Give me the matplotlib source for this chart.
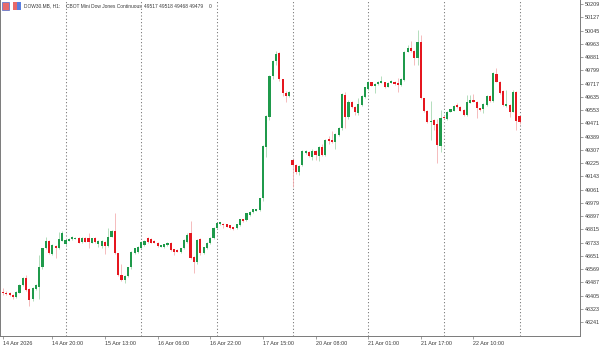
#!/usr/bin/env python3
"""DOW30 hourly candles, MT5-style screenshot look."""

import matplotlib
matplotlib.use('Agg')
import matplotlib.pyplot as plt
from matplotlib.patches import Rectangle

# OHLC of each hourly bar
opens = [48425, 48422, 48418, 48408, 48398, 48422, 48470, 48515, 48445, 48381,
         48443, 48460, 48579, 48697, 48742, 48662, 48713, 48701, 48744, 48721,
         48744, 48752, 48757, 48763, 48736, 48763, 48763, 48732, 48763, 48722,
         48713, 48738, 48713, 48769, 48806, 48666, 48532, 48501, 48526, 48579,
         48666, 48676, 48697, 48717, 48759, 48755, 48744, 48732, 48707, 48707,
         48717, 48732, 48691, 48686, 48676, 48697, 48738, 48790, 48645, 48610,
         48753, 48666, 48697, 48728, 48759, 48821, 48845, 48847, 48845, 48839,
         48827, 48821, 48841, 48876, 48872, 48903, 48920, 48930, 48934, 49006,
         49326, 49512, 49763, 49856, 49908, 49743, 49656, 49640, 49244, 49213,
         49171, 49213, 49285, 49295, 49264, 49299, 49268, 49322, 49275, 49371,
         49367, 49357, 49398, 49440, 49646, 49512, 49605, 49574, 49532, 49584,
         49636, 49681, 49724, 49704, 49714, 49722, 49724, 49697, 49722, 49728,
         49722, 49708, 49739, 49914, 49935, 49920, 49873, 49976, 49625, 49549,
         49481, 49491, 49464, 49330, 49512, 49495, 49543, 49549, 49584, 49574,
         49553, 49522, 49598, 49615, 49605, 49563, 49557, 49584, 49642, 49611,
         49776, 49728, 49671, 49578, 49584, 49543, 49664, 49517]
highs = [48449, 48430, 48425, 48415, 48430, 48478, 48520, 48530, 48450, 48455,
         48475, 48655, 48700, 48769, 48750, 48725, 48718, 48800, 48805, 48752,
         48762, 48774, 48767, 48767, 48768, 48766, 48790, 48762, 48768, 48746,
         48746, 48742, 48825, 48812, 48913, 48670, 48598, 48532, 48584, 48682,
         48702, 48712, 48740, 48746, 48769, 48760, 48748, 48736, 48719, 48725,
         48736, 48736, 48695, 48690, 48700, 48755, 48790, 48866, 48650, 48755,
         48760, 48708, 48738, 48764, 48826, 48856, 48862, 48852, 48848, 48843,
         48830, 48849, 48880, 48880, 48918, 48928, 48943, 48942, 49010, 49335,
         49520, 49768, 49865, 49920, 49912, 49746, 49670, 49672, 49250, 49220,
         49212, 49304, 49303, 49300, 49310, 49305, 49330, 49340, 49372, 49395,
         49420, 49408, 49445, 49660, 49665, 49612, 49610, 49578, 49625, 49645,
         49698, 49735, 49728, 49718, 49732, 49766, 49728, 49726, 49738, 49732,
         49749, 49748, 49920, 49955, 49982, 49925, 50048, 50017, 49630, 49555,
         49610, 49500, 49500, 49553, 49515, 49548, 49562, 49582, 49594, 49578,
         49557, 49646, 49646, 49653, 49610, 49567, 49595, 49647, 49646, 49790,
         49810, 49733, 49676, 49676, 49590, 49677, 49670, 49518]
lows = [48408, 48408, 48400, 48385, 48390, 48418, 48462, 48430, 48340, 48370,
        48438, 48383, 48570, 48690, 48660, 48655, 48639, 48695, 48740, 48715,
        48740, 48748, 48752, 48728, 48730, 48734, 48701, 48728, 48730, 48707,
        48697, 48662, 48708, 48765, 48660, 48525, 48495, 48480, 48520, 48570,
        48660, 48670, 48690, 48712, 48730, 48728, 48728, 48707, 48703, 48702,
        48713, 48680, 48655, 48672, 48670, 48690, 48732, 48630, 48545, 48600,
        48655, 48660, 48692, 48724, 48755, 48816, 48840, 48825, 48826, 48816,
        48812, 48817, 48836, 48860, 48868, 48899, 48915, 48926, 48928, 48990,
        49260, 49490, 49743, 49830, 49730, 49640, 49604, 49636, 49078, 49160,
        49150, 49208, 49280, 49262, 49245, 49245, 49240, 49270, 49270, 49340,
        49350, 49310, 49390, 49432, 49440, 49500, 49565, 49520, 49525, 49578,
        49625, 49675, 49700, 49656, 49710, 49718, 49690, 49693, 49718, 49710,
        49666, 49700, 49732, 49910, 49914, 49832, 49832, 49620, 49540, 49475,
        49367, 49429, 49227, 49295, 49495, 49490, 49538, 49545, 49565, 49545,
        49518, 49518, 49594, 49600, 49501, 49548, 49532, 49578, 49605, 49605,
        49724, 49655, 49578, 49574, 49512, 49538, 49429, 49468]
closes = [48418, 48414, 48408, 48394, 48425, 48470, 48511, 48439, 48377, 48449,
          48470, 48579, 48697, 48742, 48666, 48717, 48701, 48752, 48790, 48748,
          48757, 48769, 48763, 48732, 48763, 48738, 48736, 48759, 48734, 48742,
          48742, 48711, 48769, 48806, 48666, 48532, 48501, 48528, 48579, 48676,
          48697, 48707, 48734, 48742, 48734, 48732, 48732, 48711, 48715, 48722,
          48732, 48686, 48676, 48676, 48697, 48748, 48779, 48635, 48610, 48748,
          48666, 48703, 48732, 48759, 48821, 48852, 48858, 48839, 48831, 48821,
          48817, 48845, 48876, 48866, 48913, 48924, 48938, 48938, 49006, 49330,
          49516, 49763, 49858, 49900, 49743, 49656, 49640, 49666, 49213, 49171,
          49208, 49299, 49299, 49268, 49299, 49272, 49322, 49275, 49367, 49361,
          49357, 49402, 49440, 49650, 49508, 49605, 49570, 49543, 49590, 49640,
          49693, 49728, 49704, 49714, 49728, 49732, 49697, 49722, 49732, 49714,
          49708, 49743, 49914, 49939, 49920, 49877, 49976, 49625, 49549, 49481,
          49487, 49460, 49336, 49505, 49501, 49543, 49557, 49578, 49570, 49549,
          49522, 49605, 49615, 49605, 49563, 49553, 49590, 49642, 49611, 49780,
          49728, 49660, 49584, 49590, 49543, 49664, 49485, 49479]

# bar index of first bar of each day (period separators)
day_starts = [19, 42, 65, 88, 111, 134, 157]

# time axis labels
time_ticks = [0, 15, 31, 47, 63, 79, 95, 111, 127, 143]
time_labels = ['14 Apr 2026', '14 Apr 20:00', '15 Apr 13:00', '16 Apr 06:00',
               '16 Apr 22:00', '17 Apr 15:00', '20 Apr 08:00', '21 Apr 01:00',
               '21 Apr 17:00', '22 Apr 10:00']

# price axis labels
price_ticks = [50209, 50127, 50045, 49963, 49881, 49799, 49717, 49635, 49553,
               49471, 49389, 49307, 49225, 49143, 49061, 48979, 48897, 48815,
               48733, 48651, 48569, 48487, 48405, 48323, 48241]

UP = '#1f9a4b'
DOWN = '#e5171f'
UP_WICK = '#9fd4ab'
DOWN_WICK = '#f2a9ab'
AXIS = '#7a7a7a'
TEXT = '#3a3a3a'
FS = 3.9
TITLE_FS = 3.5

plt.rcParams['font.family'] = ['Liberation Sans', 'DejaVu Sans']

fig = plt.figure(figsize=(6, 3.45), dpi=100, facecolor='white')
ax = fig.add_axes([0, 9 / 345, 580 / 600, 336 / 345])

idx = list(range(len(opens)))
up = [c >= o for o, c in zip(opens, closes)]
body_col = [UP if u else DOWN for u in up]
wick_col = [UP_WICK if u else DOWN_WICK for u in up]
bottoms = [min(o, c) for o, c in zip(opens, closes)]
heights = [max(abs(c - o), 4) for o, c in zip(opens, closes)]

# period separators (dotted)
for d in day_starts:
    ax.axvline(d, color='#6e6e6e', lw=0.75, ls=(0, (1.0, 2.2)), zorder=1)

ax.vlines(idx, lows, highs, colors=wick_col, lw=0.55, zorder=2)
ax.bar(idx, heights, bottom=bottoms, width=0.65, color=body_col, lw=0, zorder=3)

ax.set_xlim(-0.91, 175.38)
ax.set_ylim(48154.4, 50233.8)

ax.set_xticks(time_ticks)
ax.set_xticklabels(time_labels)
for lbl in ax.get_xticklabels():
    lbl.set_ha('left')
ax.yaxis.tick_right()
ax.set_yticks(price_ticks)
ax.set_yticklabels([str(p) for p in price_ticks])

ax.tick_params(axis='both', length=2.5, width=0.5, color=AXIS,
               labelsize=FS, labelcolor=TEXT, pad=1)

for side in ['left', 'bottom', 'right']:
    ax.spines[side].set_color(AXIS)
    ax.spines[side].set_linewidth(0.7)
ax.spines['top'].set_visible(False)

# little toolbar icons before the title
fig.patches.append(Rectangle((2 / 600, 1 - 10 / 345), 7 / 600, 8 / 345,
                             transform=fig.transFigure, facecolor='#e96a6a',
                             edgecolor='#4a6fd0', lw=0.5))
fig.patches.append(Rectangle((13 / 600, 1 - 10 / 345), 4 / 600, 8 / 345,
                             transform=fig.transFigure, facecolor='#e96a6a', lw=0))
fig.patches.append(Rectangle((17 / 600, 1 - 10 / 345), 4 / 600, 8 / 345,
                             transform=fig.transFigure, facecolor='#5a7fe0', lw=0))

# chart header
ty = 1 - 6 / 345
fig.text(24 / 600, ty, 'DOW30.MB, H1:', fontsize=TITLE_FS, color=TEXT, va='center')
fig.text(66 / 600, ty, 'CBOT Mini Dow Jones Continuous', fontsize=TITLE_FS,
         color=TEXT, va='center')
fig.text(144 / 600, ty, f'{opens[-1]} {highs[-1]} {lows[-1]} {closes[-1]}',
         fontsize=TITLE_FS, color=TEXT, va='center')
fig.text(209 / 600, ty, '0', fontsize=TITLE_FS, color=TEXT, va='center')

fig.savefig('out.png', dpi=100, facecolor='white')
plt.close(fig)
